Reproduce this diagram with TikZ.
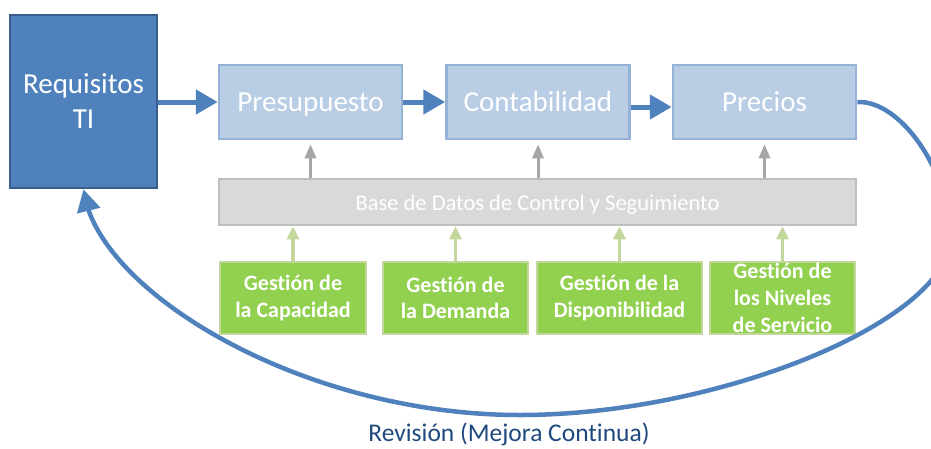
\documentclass[tikz,border=0pt]{standalone}
\usepackage{fontspec}
\setmainfont[Ligatures={NoCommon}]{Carlito}
\usetikzlibrary{arrows.meta,bending}
\definecolor{reqfill}{HTML}{4F81BD}
\definecolor{reqline}{HTML}{385D8A}
\definecolor{pfill}{HTML}{B9CDE5}
\definecolor{pline}{HTML}{95B3D7}
\definecolor{bfill}{HTML}{D9D9D9}
\definecolor{bline}{HTML}{BFBFBF}
\definecolor{gfill}{HTML}{92D050}
\definecolor{gline}{HTML}{C3D69B}
\definecolor{garrow}{HTML}{A6A6A6}
\definecolor{revtext}{HTML}{1F497D}
\begin{document}
\begin{tikzpicture}[x=1pt,y=-1pt,
  reqbox/.style={draw=reqline,fill=reqfill,line width=2.5pt,minimum width=147pt,minimum height=173pt,text=white,align=center,inner sep=0pt,font=\fontsize{29}{35}\selectfont},
  procbox/.style={draw=pline,fill=pfill,line width=2.5pt,minimum width=183pt,minimum height=74pt,text=white,inner sep=0pt,text height=24pt,text depth=6pt,font=\fontsize{29}{35}\selectfont},
  dbbox/.style={draw=bline,fill=bfill,line width=2.5pt,minimum width=637pt,minimum height=46pt,text=white,inner sep=0pt,text height=20pt,text depth=4pt,font=\fontsize{22.5}{26}\selectfont},
  gbox/.style={draw=gline,fill=gfill,line width=2.5pt,minimum height=72pt,text=white,align=center,inner sep=0pt,font=\fontsize{22}{26.7}\selectfont\bfseries},
  bluearrow/.style={draw=reqfill,line width=5pt,-{Triangle[length=22pt,width=24pt]}},
  grayarrow/.style={draw=garrow,line width=3pt,-{Triangle[length=14pt,width=11pt]},shorten >=4pt},
  greenarrow/.style={draw=gline,line width=3.5pt,-{Triangle[length=13pt,width=12pt]}},
  revline/.style={draw=reqfill,line width=4.5pt,-{Triangle[length=22pt,width=23pt,flex]}}
]
\useasboundingbox (0,0) rectangle (931,448);
\node[reqbox] (req) at (83.5,101.5) {Requisitos\\TI};
\node[procbox] (pres) at (310.5,102) {Presupuesto};
\node[procbox] (cont) at (538,102) {Contabilidad};
\node[procbox] (prec) at (764.5,102) {Precios};
\node[dbbox] (db) at (537.5,202) {Base de Datos de Control y Seguimiento};
\node[gbox,minimum width=146pt] (g1) at (293,298) {Gestión de\\la Capacidad};
\node[gbox,minimum width=145pt] (g2) at (455.5,298) {Gestión de\\la Demanda};
\node[gbox,minimum width=165pt] (g3) at (619.5,298) {Gestión de la\\Disponibilidad};
\node[gbox,minimum width=145pt] (g4) at (782.5,298) {Gestión de\\los Niveles\\de Servicio};
\node[text=revtext,font=\fontsize{25.5}{28}\selectfont,anchor=base,inner sep=0pt] (rev) at (509,441) {Revisión (Mejora Continua)};

\draw[bluearrow] (req.east |- pres.west) -- (pres.west);
\draw[bluearrow] (pres.east) -- (cont.west);
\draw[bluearrow] ([yshift=-5pt]cont.east) -- ([yshift=-5pt]prec.west);

\foreach \b in {pres,cont,prec}
  \draw[grayarrow] (\b.south |- db.north) -- (\b.south);
\foreach \g in {g1,g2,g3,g4}
  \draw[greenarrow] (\g.north) -- (\g.north |- db.south);

\draw[revline] (prec.east) .. controls (900,100) and (950,170) .. (950,238)
  .. controls (950,320) and (720,415) .. (520,415)
  .. controls (300,415) and (95,290) .. (req.south);
\end{tikzpicture}
\end{document}
